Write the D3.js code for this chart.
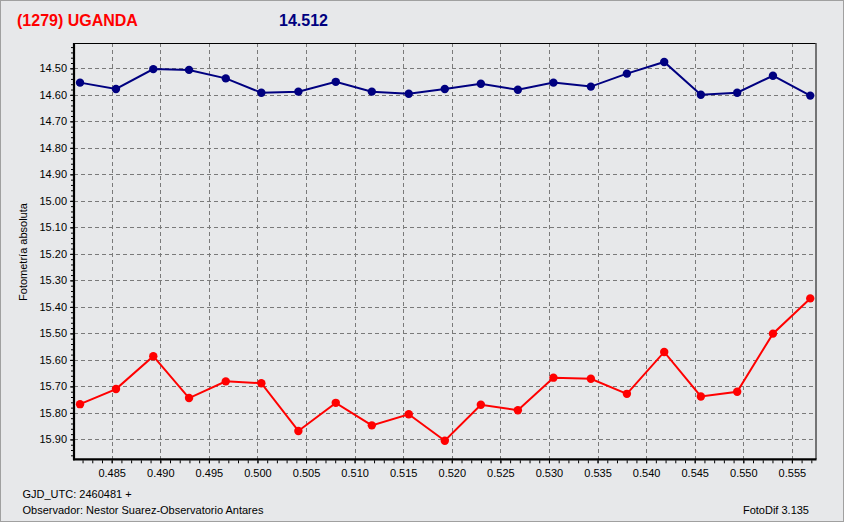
<!DOCTYPE html>
<html>
<head>
<meta charset="utf-8">
<script src="https://cdn.jsdelivr.net/npm/d3@7"></script>
<style>
html,body{margin:0;padding:0;background:#e7e8ea;}
svg{display:block;}
text{font-family:"Liberation Sans",Arial,sans-serif;}
</style>
</head>
<body>
<svg id="chart" width="844" height="522"></svg>
<script>
// ---- data ----
const titleText = "(1279) UGANDA";
const magText = "14.512";
const yAxisTitle = "Fotometría absoluta";
const footerLeft1 = "GJD_UTC: 2460481 +";
const footerLeft2 = "Observador: Nestor Suarez-Observatorio Antares";
const footerRight = "FotoDif 3.135";

const times = [0.48174, 0.48544, 0.48928, 0.49296, 0.49674, 0.50040, 0.50421,
  0.50806, 0.51177, 0.51557, 0.51928, 0.52299, 0.52680, 0.53046, 0.53431,
  0.53802, 0.54186, 0.54563, 0.54937, 0.55305, 0.55689];
const blueMag = [14.554, 14.578, 14.503, 14.506, 14.538, 14.592, 14.588,
  14.551, 14.588, 14.596, 14.578, 14.558, 14.581, 14.554, 14.569,
  14.520, 14.476, 14.600, 14.592, 14.528, 14.603];
const redMag = [15.767, 15.710, 15.586, 15.744, 15.681, 15.688, 15.868,
  15.762, 15.847, 15.805, 15.905, 15.769, 15.790, 15.667, 15.671,
  15.728, 15.570, 15.738, 15.720, 15.501, 15.368];

const yTicks = [14.50, 14.60, 14.70, 14.80, 14.90, 15.00, 15.10, 15.20,
  15.30, 15.40, 15.50, 15.60, 15.70, 15.80, 15.90];
const xTicks = [0.485, 0.490, 0.495, 0.500, 0.505, 0.510, 0.515, 0.520,
  0.525, 0.530, 0.535, 0.540, 0.545, 0.550, 0.555];

// ---- layout ----
const L = 74, R = 815.5, T = 43, B = 459.3;
const svg = d3.select("#chart");

svg.append("rect").attr("x",0.5).attr("y",0.5).attr("width",843).attr("height",521)
  .attr("fill","#e7e8ea").attr("stroke","#a0a0a0");

const x = d3.scaleLinear().domain([0.48112, 0.55743]).range([L, R]);
const y = d3.scaleLinear().domain([14.4045, 15.975]).range([T, B]);

// grid
const grid = svg.append("g").attr("stroke","#7a7a7a").attr("stroke-width",1)
  .attr("stroke-dasharray","4,3").attr("shape-rendering","crispEdges");
grid.selectAll("line.gx").data(xTicks).join("line")
  .attr("x1",d=>Math.round(x(d))+0.5).attr("x2",d=>Math.round(x(d))+0.5)
  .attr("y1",T).attr("y2",B);
grid.selectAll("line.gy").data(yTicks).join("line")
  .attr("y1",d=>Math.round(y(d))+0.5).attr("y2",d=>Math.round(y(d))+0.5)
  .attr("x1",L).attr("x2",R);

// axes with minor ticks
const xMinor = d3.range(0.482, 0.5575, 0.001).map(v=>+v.toFixed(3));
const yMinor = d3.range(14.42, 15.975, 0.02).map(v=>+v.toFixed(2));

const xAxis = d3.axisBottom(x).tickValues(xTicks).tickFormat(d3.format(".3f")).tickSize(3).tickPadding(6);
const xAxisMinor = d3.axisBottom(x).tickValues(xMinor).tickFormat("").tickSize(3);
const yAxis = d3.axisLeft(y).tickValues(yTicks).tickFormat(d3.format(".2f")).tickSize(3).tickPadding(3);
const yAxisMinor = d3.axisLeft(y).tickValues(yMinor).tickFormat("").tickSize(2);

function styleAxis(g){
  g.select(".domain").remove();
  g.selectAll("line").attr("stroke","#000");
  g.selectAll("text").attr("font-size","11px").attr("fill","#000");
}
svg.append("g").attr("transform",`translate(0,${B+1})`).call(xAxisMinor).call(styleAxis);
svg.append("g").attr("transform",`translate(0,${B+1})`).call(xAxis).call(styleAxis);
svg.append("g").attr("transform",`translate(${L-1},0)`).call(yAxisMinor).call(styleAxis);
svg.append("g").attr("transform",`translate(${L-1},0)`).call(yAxis).call(styleAxis);

// frame
svg.append("line").attr("x1",L).attr("x2",R).attr("y1",T+0.5).attr("y2",T+0.5).attr("stroke","#000").attr("stroke-width",1);
svg.append("line").attr("x1",R+0.5).attr("x2",R+0.5).attr("y1",T).attr("y2",B).attr("stroke","#000").attr("stroke-width",1);
svg.append("line").attr("x1",L).attr("x2",L).attr("y1",T).attr("y2",B+1).attr("stroke","#000").attr("stroke-width",2.2);
svg.append("line").attr("x1",L-1).attr("x2",R+1).attr("y1",B).attr("y2",B).attr("stroke","#000").attr("stroke-width",2.2);

// series
function drawSeries(vals, color){
  const pts = times.map((t,i)=>[t, vals[i]]);
  svg.append("path").datum(pts)
    .attr("fill","none").attr("stroke",color).attr("stroke-width",2)
    .attr("d", d3.line().x(d=>x(d[0])).y(d=>y(d[1])));
  svg.append("g").selectAll("circle").data(pts).join("circle")
    .attr("cx",d=>x(d[0])).attr("cy",d=>y(d[1])).attr("r",4.2).attr("fill",color);
}
drawSeries(blueMag, "#000080");
drawSeries(redMag, "#ff0000");

// texts
svg.append("text").attr("x",17).attr("y",25.5).attr("font-size","16px").attr("font-weight","bold")
  .attr("fill","#ff0000").text(titleText);
svg.append("text").attr("x",279).attr("y",25.5).attr("font-size","16px").attr("font-weight","bold")
  .attr("fill","#000080").text(magText);
svg.append("text").attr("transform","translate(26.5,252) rotate(-90)").attr("text-anchor","middle")
  .attr("font-size","11px").attr("fill","#000").text(yAxisTitle);
svg.append("text").attr("x",22.5).attr("y",497.5).attr("font-size","11px").attr("fill","#000").text(footerLeft1);
svg.append("text").attr("x",22.5).attr("y",514).attr("font-size","11px").attr("fill","#000").text(footerLeft2);
svg.append("text").attr("x",809).attr("y",513.5).attr("text-anchor","end").attr("font-size","11px").attr("fill","#000").text(footerRight);
</script>
</body>
</html>
